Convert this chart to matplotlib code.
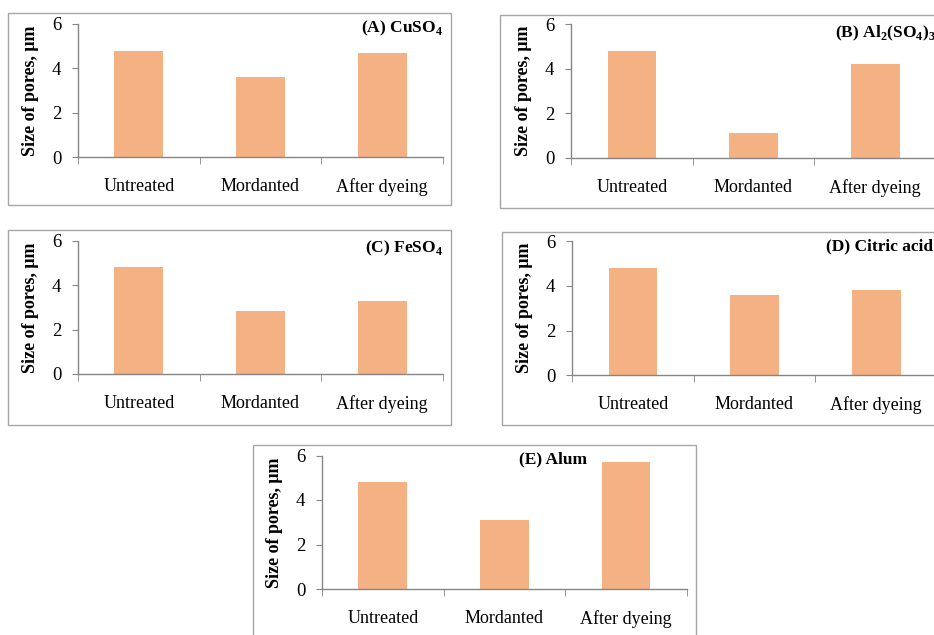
import matplotlib
matplotlib.use("Agg")
import matplotlib.pyplot as plt
from matplotlib.patches import Rectangle

plt.rcParams['font.family'] = ['Liberation Serif', 'DejaVu Serif']
plt.rcParams['mathtext.fontset'] = 'custom'
plt.rcParams['mathtext.rm'] = 'Liberation Serif'
plt.rcParams['mathtext.bf'] = 'Liberation Serif:bold'

# data
categories = ['Untreated', 'Mordanted', 'After dyeing']
cuso4 = [4.8, 3.6, 4.7]
al2so43 = [4.8, 1.1, 4.2]
feso4 = [4.8, 2.85, 3.3]
citric = [4.8, 3.6, 3.8]
alum = [4.8, 3.1, 5.7]

titles = [r'(A) CuSO$_\mathbf{4}$', r'(B) Al$_\mathbf{2}$(SO$_\mathbf{4}$)$_\mathbf{3}$',
          r'(C) FeSO$_\mathbf{4}$', '(D) Citric acid', '(E) Alum']
series = [cuso4, al2so43, feso4, citric, alum]

W, H = 934, 635
fig = plt.figure(figsize=(W / 100, H / 100), dpi=100)

# axes in pixels: left, right, y of zero, y of 6
axes_px = [(78, 443, 157, 24),
           (571, 936, 158, 24.3),
           (78, 443, 374, 240.7),
           (572, 937, 375.3, 241),
           (322, 686.7, 589, 455.5)]
# panel border boxes in pixels: x0, y0, x1, y1
boxes_px = [(8, 13, 451, 205),
            (500, 15, 945, 208),
            (8, 230, 451, 425),
            (502, 232, 945, 425),
            (253, 445, 696, 645)]
# title placement in axes coords
title_pos = [(1.0, 0.97, 'right'), (1.0, 0.935, 'right'), (1.0, 0.945, 'right'),
             (0.99, 0.957, 'right'), (0.54, 0.974, 'left')]

bar_color = '#F4B183'
spine_color = '#868686'

for i in range(5):
    x0, y0, x1, y1 = boxes_px[i]
    fig.patches.append(Rectangle((x0 / W, 1 - y1 / H), (x1 - x0) / W, (y1 - y0) / H,
                                 transform=fig.transFigure, fill=False,
                                 edgecolor='#a6a6a6', linewidth=1.0))

    l, r, yb, yt = axes_px[i]
    ax = fig.add_axes([l / W, 1 - yb / H, (r - l) / W, (yb - yt) / H])
    ax.set_facecolor('none')
    xs = range(len(categories))
    ax.bar(xs, series[i], width=0.4, color=bar_color)
    ax.set_xlim(-0.5, 2.5)
    ax.set_ylim(0, 6)
    ax.set_yticks([0, 2, 4, 6])
    ax.set_xticks(list(xs))
    ax.set_xticklabels(categories)
    ax.set_xticks([-0.5, 0.5, 1.5, 2.5], minor=True)
    ax.tick_params(axis='x', which='major', length=0, pad=15, labelsize=13)
    ax.tick_params(axis='x', which='minor', length=5, color=spine_color, direction='out')
    ax.tick_params(axis='y', length=4, color=spine_color, pad=8, labelsize=13.5)
    for s in ['top', 'right']:
        ax.spines[s].set_visible(False)
    for s in ['left', 'bottom']:
        ax.spines[s].set_color(spine_color)
        ax.spines[s].set_linewidth(1.0)
    ax.set_ylabel('Size of pores, μm', fontsize=13, fontweight='bold')
    ax.yaxis.set_label_coords(-0.107, 0.5)

    tx, ty, ha = title_pos[i]
    ax.text(tx, ty, titles[i], transform=ax.transAxes, ha=ha, va='center',
            fontsize=12.5, fontweight='bold', clip_on=False)

fig.savefig('out.png', dpi=100)
